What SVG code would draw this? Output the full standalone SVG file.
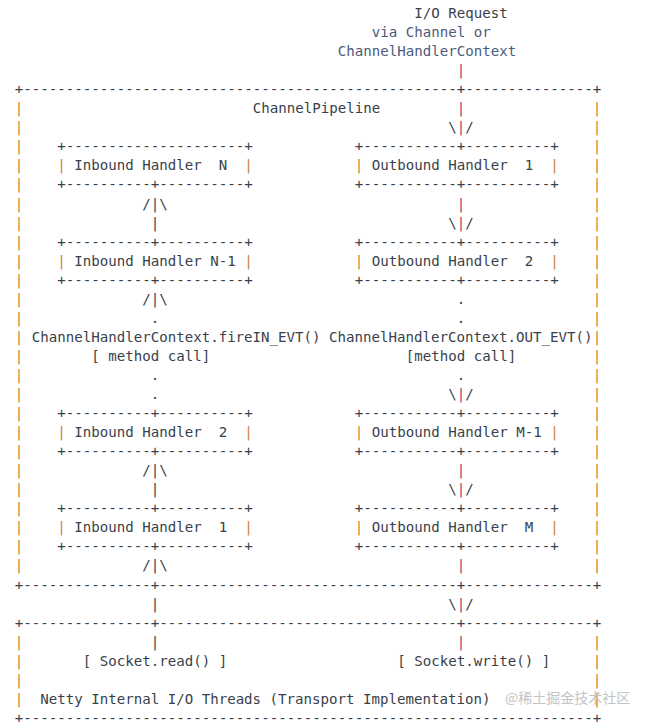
<svg xmlns="http://www.w3.org/2000/svg" width="647" height="726" viewBox="0 0 647 726">
<style>
text{font-family:"DejaVu Sans Mono","Liberation Mono",monospace;font-size:14.12px;fill:#3a3f4b;white-space:pre}
.o{fill:#c8843a}
.q{fill:#a23b66}
.b{fill:#4d5b7c}
.wm{font-family:"Noto Sans CJK SC","Noto Sans",sans-serif;font-size:14px;fill:#c4c4c4}
</style>
<rect width="647" height="726" fill="#ffffff"/>
<g id="request">
<text x="414.25" y="18">I/O Request</text>
<text x="371.75" y="37.05" class="b">via Channel or</text>
<text x="337.75" y="56.1" class="b">ChannelHandlerContext</text>
</g>
<g id="pipeline">
<text x="14.75" y="94.2">+</text>
<text x="23.25" y="94.2" textLength="433.5" lengthAdjust="spacing">---------------------------------------------------</text>
<text x="456.75" y="94.2">+</text>
<text x="465.25" y="94.2" textLength="127.5" lengthAdjust="spacing">---------------</text>
<text x="592.75" y="94.2">+</text>
<text x="252.75" y="113.25">ChannelPipeline</text>
<text x="31.75" y="341.85">ChannelHandlerContext.fireIN_EVT() ChannelHandlerContext.OUT_EVT()</text>
<text x="91.25" y="360.9">[ method call]</text>
<text x="405.75" y="360.9">[method call]</text>
<text x="14.75" y="589.5">+</text>
<text x="23.25" y="589.5" textLength="127.5" lengthAdjust="spacing">---------------</text>
<text x="150.75" y="589.5">+</text>
<text x="159.25" y="589.5" textLength="297.5" lengthAdjust="spacing">-----------------------------------</text>
<text x="456.75" y="589.5">+</text>
<text x="465.25" y="589.5" textLength="127.5" lengthAdjust="spacing">---------------</text>
<text x="592.75" y="589.5">+</text>
<text class="o"><tspan x="14.75" y="113.25">|</tspan><tspan x="14.75" y="132.3">|</tspan><tspan x="14.75" y="151.35">|</tspan><tspan x="14.75" y="170.4">|</tspan><tspan x="14.75" y="189.45">|</tspan><tspan x="14.75" y="208.5">|</tspan><tspan x="14.75" y="227.55">|</tspan><tspan x="14.75" y="246.6">|</tspan><tspan x="14.75" y="265.65">|</tspan><tspan x="14.75" y="284.7">|</tspan><tspan x="14.75" y="303.75">|</tspan><tspan x="14.75" y="322.8">|</tspan><tspan x="14.75" y="341.85">|</tspan><tspan x="14.75" y="360.9">|</tspan><tspan x="14.75" y="379.95">|</tspan><tspan x="14.75" y="399">|</tspan><tspan x="14.75" y="418.05">|</tspan><tspan x="14.75" y="437.1">|</tspan><tspan x="14.75" y="456.15">|</tspan><tspan x="14.75" y="475.2">|</tspan><tspan x="14.75" y="494.25">|</tspan><tspan x="14.75" y="513.3">|</tspan><tspan x="14.75" y="532.35">|</tspan><tspan x="14.75" y="551.4">|</tspan><tspan x="14.75" y="570.45">|</tspan></text>
<text class="o"><tspan x="592.75" y="113.25">|</tspan><tspan x="592.75" y="132.3">|</tspan><tspan x="592.75" y="151.35">|</tspan><tspan x="592.75" y="170.4">|</tspan><tspan x="592.75" y="189.45">|</tspan><tspan x="592.75" y="208.5">|</tspan><tspan x="592.75" y="227.55">|</tspan><tspan x="592.75" y="246.6">|</tspan><tspan x="592.75" y="265.65">|</tspan><tspan x="592.75" y="284.7">|</tspan><tspan x="592.75" y="303.75">|</tspan><tspan x="592.75" y="322.8">|</tspan><tspan x="592.75" y="341.85">|</tspan><tspan x="592.75" y="360.9">|</tspan><tspan x="592.75" y="379.95">|</tspan><tspan x="592.75" y="399">|</tspan><tspan x="592.75" y="418.05">|</tspan><tspan x="592.75" y="437.1">|</tspan><tspan x="592.75" y="456.15">|</tspan><tspan x="592.75" y="475.2">|</tspan><tspan x="592.75" y="494.25">|</tspan><tspan x="592.75" y="513.3">|</tspan><tspan x="592.75" y="532.35">|</tspan><tspan x="592.75" y="551.4">|</tspan><tspan x="592.75" y="570.45">|</tspan></text>
</g>
<g id="inbound-n">
<text x="57.25" y="151.35" textLength="195.5" lengthAdjust="spacing">+---------------------+</text>
<text x="57.25" y="170.4"><tspan class="o">|</tspan> Inbound Handler  N  <tspan class="o">|</tspan></text>
<text x="57.25" y="189.45" textLength="195.5" lengthAdjust="spacing">+----------+----------+</text>
</g>
<g id="inbound-n1">
<text x="57.25" y="246.6" textLength="195.5" lengthAdjust="spacing">+----------+----------+</text>
<text x="57.25" y="265.65"><tspan class="o">|</tspan> Inbound Handler N-1 <tspan class="o">|</tspan></text>
<text x="57.25" y="284.7" textLength="195.5" lengthAdjust="spacing">+----------+----------+</text>
</g>
<g id="inbound-2">
<text x="57.25" y="418.05" textLength="195.5" lengthAdjust="spacing">+----------+----------+</text>
<text x="57.25" y="437.1"><tspan class="o">|</tspan> Inbound Handler  2  <tspan class="o">|</tspan></text>
<text x="57.25" y="456.15" textLength="195.5" lengthAdjust="spacing">+----------+----------+</text>
</g>
<g id="inbound-1">
<text x="57.25" y="513.3" textLength="195.5" lengthAdjust="spacing">+----------+----------+</text>
<text x="57.25" y="532.35"><tspan class="o">|</tspan> Inbound Handler  1  <tspan class="o">|</tspan></text>
<text x="57.25" y="551.4" textLength="195.5" lengthAdjust="spacing">+----------+----------+</text>
</g>
<g id="outbound-1">
<text x="354.75" y="151.35" textLength="204" lengthAdjust="spacing">+-----------+----------+</text>
<text x="354.75" y="170.4"><tspan class="o">|</tspan> Outbound Handler  1  <tspan class="o">|</tspan></text>
<text x="354.75" y="189.45" textLength="204" lengthAdjust="spacing">+-----------+----------+</text>
</g>
<g id="outbound-2">
<text x="354.75" y="246.6" textLength="204" lengthAdjust="spacing">+-----------+----------+</text>
<text x="354.75" y="265.65"><tspan class="o">|</tspan> Outbound Handler  2  <tspan class="o">|</tspan></text>
<text x="354.75" y="284.7" textLength="204" lengthAdjust="spacing">+-----------+----------+</text>
</g>
<g id="outbound-m1">
<text x="354.75" y="418.05" textLength="204" lengthAdjust="spacing">+-----------+----------+</text>
<text x="354.75" y="437.1"><tspan class="o">|</tspan> Outbound Handler M-1 <tspan class="o">|</tspan></text>
<text x="354.75" y="456.15" textLength="204" lengthAdjust="spacing">+-----------+----------+</text>
</g>
<g id="outbound-m">
<text x="354.75" y="513.3" textLength="204" lengthAdjust="spacing">+-----------+----------+</text>
<text x="354.75" y="532.35"><tspan class="o">|</tspan> Outbound Handler  M  <tspan class="o">|</tspan></text>
<text x="354.75" y="551.4" textLength="204" lengthAdjust="spacing">+-----------+----------+</text>
</g>
<g id="transport">
<text x="14.75" y="627.6">+</text>
<text x="23.25" y="627.6" textLength="127.5" lengthAdjust="spacing">---------------</text>
<text x="150.75" y="627.6">+</text>
<text x="159.25" y="627.6" textLength="297.5" lengthAdjust="spacing">-----------------------------------</text>
<text x="456.75" y="627.6">+</text>
<text x="465.25" y="627.6" textLength="127.5" lengthAdjust="spacing">---------------</text>
<text x="592.75" y="627.6">+</text>
<text class="o"><tspan x="14.75" y="646.65">|</tspan><tspan x="14.75" y="665.7">|</tspan><tspan x="14.75" y="684.75">|</tspan><tspan x="14.75" y="703.8">|</tspan><tspan x="592.75" y="646.65">|</tspan><tspan x="592.75" y="665.7">|</tspan><tspan x="592.75" y="684.75">|</tspan><tspan x="592.75" y="703.8">|</tspan></text>
<text x="82.75" y="665.7">[ Socket.read() ]</text>
<text x="397.25" y="665.7">[ Socket.write() ]</text>
<text x="40.25" y="703.8">Netty Internal I/O Threads (Transport Implementation)</text>
<text x="14.75" y="722.85">+</text>
<text x="23.25" y="722.85" textLength="569.5" lengthAdjust="spacing">-------------------------------------------------------------------</text>
<text x="592.75" y="722.85">+</text>
</g>
<g id="connectors">
<text class="q"><tspan x="456.75" y="75.15">|</tspan><tspan x="456.75" y="113.25">|</tspan><tspan x="456.75" y="208.5">|</tspan><tspan x="456.75" y="475.2">|</tspan><tspan x="456.75" y="570.45">|</tspan><tspan x="456.75" y="646.65">|</tspan></text>
<text x="448.25" y="132.3">\<tspan class="q">|</tspan>/</text>
<text x="448.25" y="227.55">\<tspan class="q">|</tspan>/</text>
<text x="448.25" y="399">\<tspan class="q">|</tspan>/</text>
<text x="448.25" y="494.25">\<tspan class="q">|</tspan>/</text>
<text x="448.25" y="608.55">\<tspan class="q">|</tspan>/</text>
<text><tspan x="456.75" y="303.75">.</tspan><tspan x="456.75" y="322.8">.</tspan><tspan x="456.75" y="379.95">.</tspan><tspan x="150.75" y="322.8">.</tspan><tspan x="150.75" y="379.95">.</tspan><tspan x="150.75" y="399">.</tspan></text>
<text><tspan x="142.25" y="208.5">/|\</tspan><tspan x="142.25" y="303.75">/|\</tspan><tspan x="142.25" y="475.2">/|\</tspan><tspan x="142.25" y="570.45">/|\</tspan></text>
<text><tspan x="150.75" y="227.55">|</tspan><tspan x="150.75" y="494.25">|</tspan><tspan x="150.75" y="608.55">|</tspan><tspan x="150.75" y="646.65">|</tspan></text>
</g>
<text x="505" y="703" class="wm">@稀土掘金技术社区</text>
</svg>
